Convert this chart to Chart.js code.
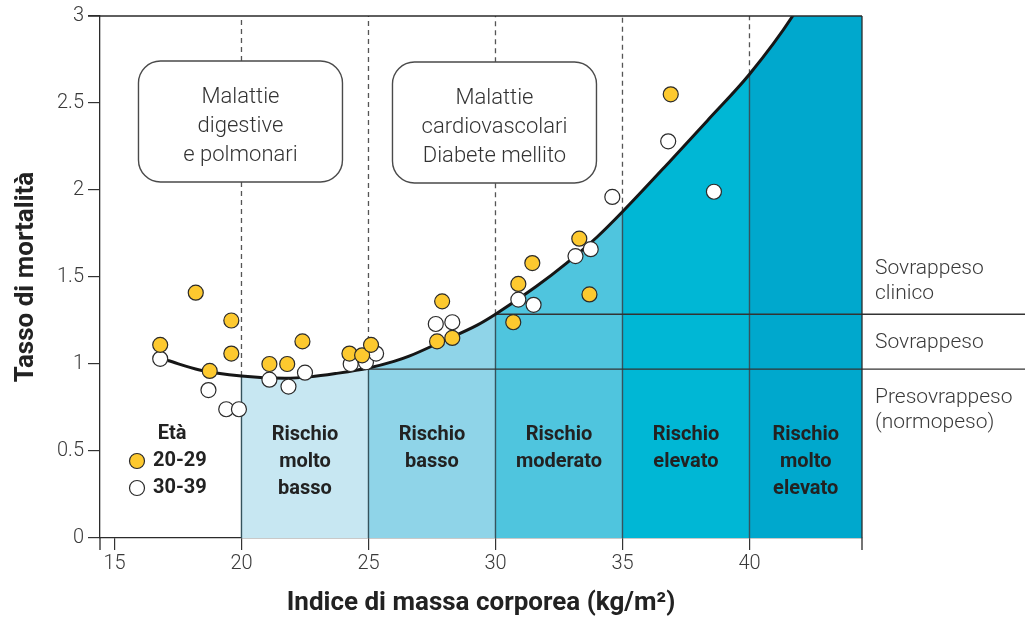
<!DOCTYPE html>
<html><head><meta charset="utf-8">
<script src="https://cdn.jsdelivr.net/npm/chart.js@4.4.0/dist/chart.umd.min.js"></script>
<style>html,body{margin:0;padding:0;background:#fff;}#wrap{width:1025px;height:619px;}</style>
</head><body><div id="wrap"><canvas id="c" width="1025" height="619"></canvas></div>
<script>
// ---- data ----
const xTickValues = [15, 20, 25, 30, 35, 40];
const yTickValues = [0, 0.5, 1, 1.5, 2, 2.5, 3];

const age2029X = [16.8, 18.2, 19.6, 19.6, 18.75, 21.1, 21.8, 22.4, 24.25, 24.75, 25.1, 27.9, 27.7, 28.3, 30.7, 30.9, 31.45, 33.3, 33.7, 36.9];
const age2029Y = [1.11, 1.41, 1.25, 1.06, 0.96, 1.0, 1.0, 1.13, 1.06, 1.05, 1.11, 1.36, 1.13, 1.15, 1.24, 1.46, 1.58, 1.72, 1.40, 2.55];
const age3039X = [16.8, 18.7, 19.4, 19.9, 21.1, 21.85, 22.5, 24.3, 24.9, 25.3, 27.65, 28.3, 30.9, 31.5, 33.15, 33.75, 34.6, 36.8, 38.6];
const age3039Y = [1.03, 0.85, 0.74, 0.74, 0.91, 0.87, 0.95, 1.0, 1.01, 1.06, 1.23, 1.24, 1.37, 1.34, 1.62, 1.66, 1.96, 2.28, 1.99];

const curveX = [17.1, 18.35, 20, 21.7, 22.7, 23.7, 25, 26, 26.6, 27.9, 29.3, 30, 31.6, 32.8, 34, 35, 36.9, 38.35, 40, 41.7, 43, 44.6];
const curveY = [1.02, 0.966, 0.931, 0.918, 0.926, 0.945, 0.977, 1.015, 1.045, 1.13, 1.225, 1.286, 1.445, 1.58, 1.73, 1.875, 2.17, 2.40, 2.665, 3.0, 3.33, 3.75];

const zoneEdges = [20, 25, 30, 35, 40];
const zoneNames = [["Rischio", "molto", "basso"], ["Rischio", "basso"], ["Rischio", "moderato"], ["Rischio", "elevato"], ["Rischio", "molto", "elevato"]];

const thresholdX = [25, 30];
const thresholdY = [0.97, 1.286];
const classLabels = [["Presovrappeso", "(normopeso)"], ["Sovrappeso"], ["Sovrappeso", "clinico"]];

const diseaseBoxX = [20, 30];
const diseaseTexts = [["Malattie", "digestive", "e polmonari"], ["Malattie", "cardiovascolari", "Diabete mellito"]];

const legendTitle = "Età";
const seriesNames = ["20-29", "30-39"];

// ---- styles ----
const X_MIN = 14.43, X_MAX = 44.43, X_PAGE_END = 50.9;
const zoneColors = ['#c7e7f2', '#8fd4e8', '#4fc5de', '#00b7d5', '#00a8cd'];
const YELLOW = '#fdc92f', WHITE = '#ffffff', EDGE = '#2a2a2a';
const LIGHT = '300 ', FAM = 'Roboto, "Liberation Sans", sans-serif';

const pts = (xs, ys) => xs.map((v, i) => ({x: v, y: ys[i]}));
const curvePts = pts(curveX, curveY);
const curveAt = v => curveY[curveX.indexOf(v)];

const datasets = [];
zoneEdges.forEach((a, i) => {
  const b = i + 1 < zoneEdges.length ? zoneEdges[i + 1] : Infinity;
  datasets.push({
    type: 'line', data: curvePts.filter(p => p.x >= a && p.x <= b),
    fill: 'origin', backgroundColor: zoneColors[i], borderWidth: 0, pointRadius: 0,
    cubicInterpolationMode: 'monotone', order: 20
  });
});
zoneEdges.forEach(b => {
  datasets.push({type: 'line', data: [{x: b, y: 0}, {x: b, y: curveAt(b)}], borderColor: '#35535d', borderWidth: 1.4, pointRadius: 0, fill: false, order: 15});
  datasets.push({type: 'line', data: [{x: b, y: curveAt(b)}, {x: b, y: 3}], borderColor: '#555', borderWidth: 1.3, borderDash: [5, 4], pointRadius: 0, fill: false, order: 15});
});
thresholdX.forEach((tx, i) => {
  datasets.push({type: 'line', data: [{x: tx, y: thresholdY[i]}, {x: X_PAGE_END, y: thresholdY[i]}], borderColor: '#333', borderWidth: 1.3, pointRadius: 0, fill: false, clip: false, order: 14});
});
datasets.push({type: 'line', data: curvePts, borderColor: '#161616', borderWidth: 3, pointRadius: 0, fill: false, cubicInterpolationMode: 'monotone', order: 10});
datasets.push({type: 'scatter', label: seriesNames[1], data: pts(age3039X, age3039Y), backgroundColor: WHITE, borderColor: EDGE, borderWidth: 1.2, pointRadius: 7.5, order: 3});
datasets.push({type: 'scatter', label: seriesNames[0], data: pts(age2029X, age2029Y), backgroundColor: YELLOW, borderColor: EDGE, borderWidth: 1.2, pointRadius: 7.5, order: 2});

function roundRect(ctx, x, y, w, h, r) {
  ctx.beginPath();
  ctx.moveTo(x + r, y);
  ctx.arcTo(x + w, y, x + w, y + h, r);
  ctx.arcTo(x + w, y + h, x, y + h, r);
  ctx.arcTo(x, y + h, x, y, r);
  ctx.arcTo(x, y, x + w, y, r);
  ctx.closePath();
}

const annotate = {
  id: 'annotate',
  afterDatasetsDraw(chart) {
    const {ctx, chartArea: a, scales: {x, y}} = chart;
    ctx.save();
    ctx.strokeStyle = '#2b2b2b'; ctx.lineWidth = 1.3;
    ctx.beginPath();
    ctx.moveTo(a.left - 12, a.top); ctx.lineTo(a.right, a.top);
    ctx.moveTo(a.right, a.top); ctx.lineTo(a.right, a.bottom + 12);
    ctx.moveTo(a.left, a.bottom); ctx.lineTo(a.left, a.bottom + 12);
    ctx.stroke();

    diseaseBoxX.forEach((bx, i) => {
      const cx = x.getPixelForValue(bx) - 1;
      const top = 61 + i, w = 204, h = 121;
      roundRect(ctx, cx - w / 2, top, w, h, 22);
      ctx.fillStyle = '#fff'; ctx.fill();
      ctx.strokeStyle = '#4a4a4a'; ctx.lineWidth = 1.4; ctx.stroke();
      ctx.fillStyle = '#333'; ctx.font = LIGHT + '22px ' + FAM;
      ctx.textAlign = 'center'; ctx.textBaseline = 'middle';
      diseaseTexts[i].forEach((t, j) => ctx.fillText(t, cx, top + 36 + j * 29));
    });

    ctx.fillStyle = '#222'; ctx.font = 'bold 20px ' + FAM;
    ctx.textAlign = 'center'; ctx.textBaseline = 'middle';
    zoneEdges.forEach((a0, i) => {
      const b = i + 1 < zoneEdges.length ? zoneEdges[i + 1] : X_MAX;
      const cx = x.getPixelForValue((a0 + b) / 2);
      zoneNames[i].forEach((t, j) => ctx.fillText(t, cx, 435 + j * 27));
    });

    ctx.fillText(legendTitle, 172, 434);
    [[YELLOW, seriesNames[0], 461], [WHITE, seriesNames[1], 488]].forEach(([c, t, ly]) => {
      ctx.beginPath(); ctx.arc(137, ly, 7.5, 0, Math.PI * 2);
      ctx.fillStyle = c; ctx.fill(); ctx.strokeStyle = EDGE; ctx.lineWidth = 1.2; ctx.stroke();
      ctx.fillStyle = '#222'; ctx.font = 'bold 20px ' + FAM; ctx.textAlign = 'left';
      ctx.fillText(t, 153, ly);
    });

    ctx.fillStyle = '#3a3a3a'; ctx.font = LIGHT + '21px ' + FAM; ctx.textAlign = 'left';
    const y1 = y.getPixelForValue(thresholdY[0]), y2 = y.getPixelForValue(thresholdY[1]);
    classLabels[0].forEach((t, j) => ctx.fillText(t, a.right + 13, y1 + 29 + j * 25));
    classLabels[1].forEach((t) => ctx.fillText(t, a.right + 13, (y1 + y2) / 2 + 1));
    classLabels[2].forEach((t, j) => ctx.fillText(t, a.right + 13, y2 - 45 + j * 25));
    ctx.restore();
  }
};

new Chart(document.getElementById('c'), {
  data: {datasets},
  plugins: [annotate],
  options: {
    responsive: false, animation: false,
    layout: {padding: {top: 13, right: 163, left: 0, bottom: 0}},
    plugins: {legend: {display: false}, tooltip: {enabled: false}},
    scales: {
      x: {
        type: 'linear', min: X_MIN, max: X_MAX,
        afterFit: s => { s.height = 81; },
        afterBuildTicks: s => { s.ticks = xTickValues.map(v => ({value: v})); },
        grid: {drawOnChartArea: false, drawTicks: true, tickLength: 12, color: '#333', lineWidth: 1.2},
        border: {display: true, color: '#2b2b2b', width: 1.3},
        ticks: {color: '#3a3a3a', font: {family: FAM, size: 20, weight: '300'}, padding: 2, maxRotation: 0, callback: v => String(v)},
        title: {display: true, text: 'Indice di massa corporea (kg/m²)', color: '#222', font: {family: FAM, size: 26, weight: 'bold'}, padding: {top: 0, bottom: 0}}
      },
      y: {
        type: 'linear', min: 0, max: 3,
        afterFit: s => { s.width = 100; },
        afterBuildTicks: s => { s.ticks = yTickValues.map(v => ({value: v})); },
        grid: {drawOnChartArea: false, drawTicks: true, tickLength: 12, color: '#333', lineWidth: 1.2},
        border: {display: true, color: '#2b2b2b', width: 1.3},
        ticks: {color: '#3a3a3a', font: {family: FAM, size: 20, weight: '300'}, padding: 4, callback: v => String(v)},
        title: {display: true, text: 'Tasso di mortalità', color: '#222', font: {family: FAM, size: 26, weight: 'bold'}, padding: {top: 11, bottom: 0}}
      }
    }
  }
});
</script></body></html>
